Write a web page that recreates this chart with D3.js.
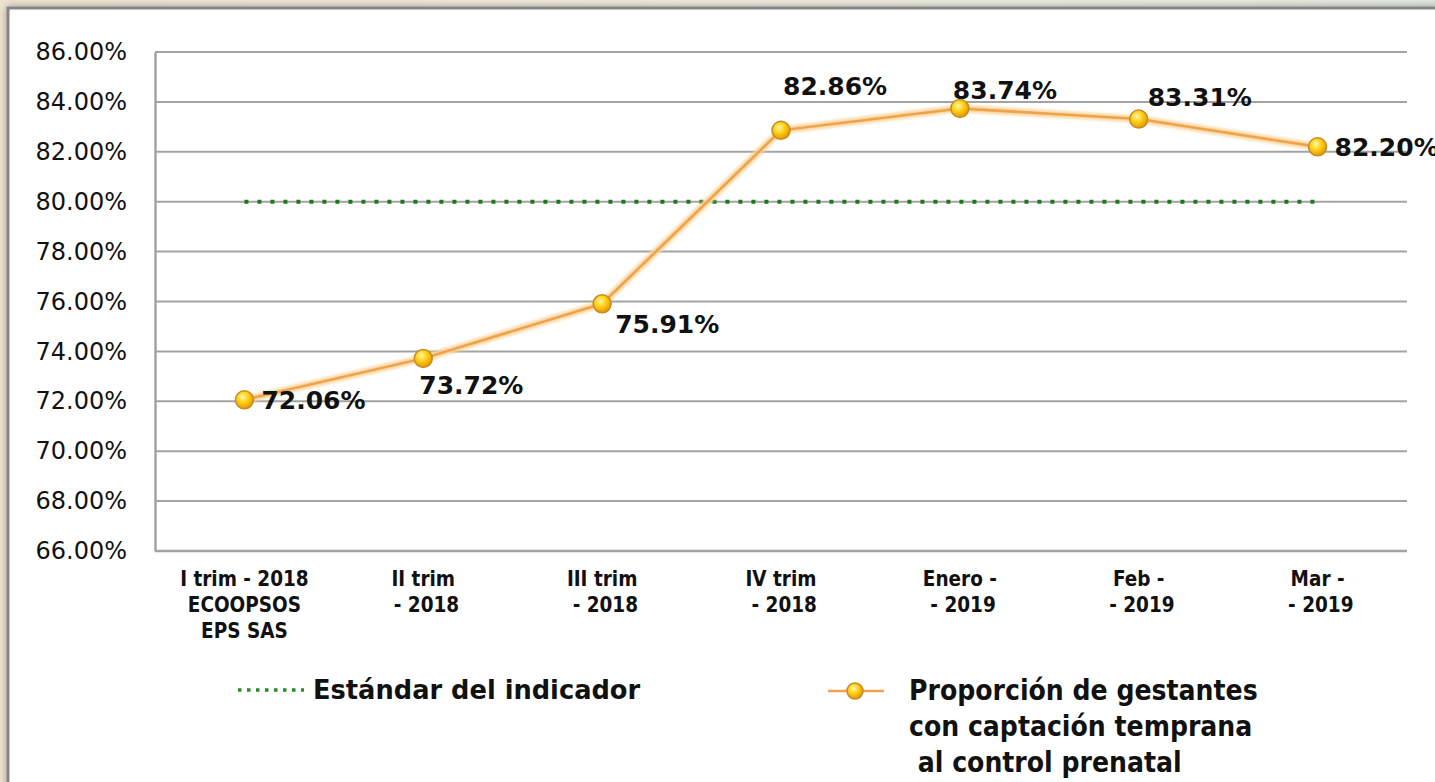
<!DOCTYPE html>
<html>
<head>
<meta charset="utf-8">
<script src="https://cdn.jsdelivr.net/npm/d3@7"></script>
<style>
  body { margin: 0; background: #efe7d8; }
  svg { display: block; }
</style>
</head>
<body>
<div id="chart"></div>
<script>
// Data
var categories = [
    ["I trim - 2018", "ECOOPSOS", "EPS SAS"],
    ["II trim", " - 2018"],
    ["III trim", " - 2018"],
    ["IV trim", " - 2018"],
    ["Enero -", " - 2019"],
    ["Feb -", " - 2019"],
    ["Mar -", " - 2019"]
];
var proporcion = [72.06, 73.72, 75.91, 82.86, 83.74, 83.31, 82.20];
var estandar = [80, 80, 80, 80, 80, 80, 80];
var yTicks = [66, 68, 70, 72, 74, 76, 78, 80, 82, 84, 86];
var legendNames = ["Estándar del indicador", ["Proporción de gestantes", "con captación temprana", " al control prenatal"]];

// Label placement relative to each point (layout only)
var labelOffsets = [[17, 9], [-4, 36], [13, 29], [2, -35], [-7, -9], [9, -13], [17, 9]];

var svgWidth = 1435;
var svgHeight = 782;

var margin = { top: 52, right: 28, bottom: 231, left: 155 };
var width = svgWidth - margin.left - margin.right;
var height = svgHeight - margin.top - margin.bottom;

var svg = d3.select("#chart")
    .append("svg")
    .attr("width", svgWidth)
    .attr("height", svgHeight);

var defs = svg.append("defs");

// page background gradient
var bg = defs.append("linearGradient").attr("id", "bg")
    .attr("x1", "0").attr("y1", "0").attr("x2", "1").attr("y2", "0");
bg.append("stop").attr("offset", "0%").attr("stop-color", "#efe5d3");
bg.append("stop").attr("offset", "60%").attr("stop-color", "#f2ede2");
bg.append("stop").attr("offset", "100%").attr("stop-color", "#e3ebe0");

var ball = defs.append("radialGradient").attr("id", "ball")
    .attr("cx", "40%").attr("cy", "35%").attr("r", "65%");
ball.append("stop").attr("offset", "0%").attr("stop-color", "#fff7a8");
ball.append("stop").attr("offset", "45%").attr("stop-color", "#ffd21a");
ball.append("stop").attr("offset", "100%").attr("stop-color", "#e39a00");

var shadow = defs.append("filter").attr("id", "shadow")
    .attr("x", "-5%").attr("y", "-5%").attr("width", "110%").attr("height", "110%");
shadow.append("feDropShadow").attr("dx", 0).attr("dy", 0).attr("stdDeviation", 4)
    .attr("flood-color", "#000").attr("flood-opacity", 0.35);

var blur = defs.append("filter").attr("id", "blur");
blur.append("feGaussianBlur").attr("stdDeviation", 1.5);

svg.append("rect")
    .attr("width", svgWidth).attr("height", svgHeight)
    .attr("fill", "url(#bg)");

// chart box
svg.append("rect")
    .attr("x", 8).attr("y", 8)
    .attr("width", svgWidth + 20).attr("height", svgHeight + 20)
    .attr("fill", "#ffffff")
    .attr("stroke", "#858585")
    .attr("stroke-width", 3)
    .attr("filter", "url(#shadow)");

var chartGroup = svg.append("g")
    .attr("transform", `translate(${margin.left}, ${margin.top})`);

// Scales
var xBandScale = d3.scaleBand()
    .domain(d3.range(categories.length))
    .range([0, width]);

var yLinearScale = d3.scaleLinear()
    .domain([66, 86])
    .range([height, 0]);

var xCenter = i => xBandScale(i) + xBandScale.bandwidth() / 2;

// Gridlines
chartGroup.append("g")
    .selectAll("line")
    .data(yTicks)
    .enter()
    .append("line")
    .attr("x1", 0)
    .attr("x2", width)
    .attr("y1", d => yLinearScale(d))
    .attr("y2", d => yLinearScale(d))
    .attr("stroke", "#a3a3a3")
    .attr("stroke-width", 2);

// Left axis
var leftAxis = d3.axisLeft(yLinearScale)
    .tickValues(yTicks)
    .tickSize(0)
    .tickPadding(28)
    .tickFormat(d => d.toFixed(2) + "%");

var yAxisG = chartGroup.append("g").call(leftAxis);
yAxisG.select(".domain").attr("stroke", "#a3a3a3").attr("stroke-width", 2.5);
yAxisG.selectAll("text")
    .attr("font-family", "DejaVu Sans, Verdana, sans-serif")
    .attr("font-size", "24px")
    .attr("fill", "#111");

// Bottom axis line
chartGroup.append("line")
    .attr("x1", 0).attr("x2", width)
    .attr("y1", height).attr("y2", height)
    .attr("stroke", "#a3a3a3")
    .attr("stroke-width", 2.5);

// X labels
var xLabels = chartGroup.append("g")
    .selectAll("text")
    .data(categories)
    .enter()
    .append("text")
    .attr("x", (d, i) => xCenter(i))
    .attr("y", height + 35)
    .attr("text-anchor", "middle")
    .attr("font-family", "DejaVu Sans Condensed, DejaVu Sans, sans-serif")
    .attr("font-weight", "bold")
    .attr("font-size", "20.5px")
    .attr("fill", "#111");

xLabels.selectAll("tspan")
    .data(d => d)
    .enter()
    .append("tspan")
    .attr("x", function() { return d3.select(this.parentNode).attr("x"); })
    .attr("dy", (d, i) => i === 0 ? 0 : 26)
    .attr("xml:space", "preserve")
    .text(d => d);

// Standard line (dotted)
var line = d3.line()
    .x((d, i) => xCenter(i))
    .y(d => yLinearScale(d));

chartGroup.append("path")
    .datum(estandar)
    .attr("d", line)
    .attr("fill", "none")
    .attr("stroke", "#8fd08f")
    .attr("stroke-width", 8)
    .attr("stroke-dasharray", "6 7")
    .attr("opacity", 0.55)
    .attr("filter", "url(#blur)");

chartGroup.append("path")
    .datum(estandar)
    .attr("d", line)
    .attr("fill", "none")
    .attr("stroke", "#1c7a1c")
    .attr("stroke-width", 4)
    .attr("stroke-dasharray", "4 9");

// Series line with glow
chartGroup.append("path")
    .datum(proporcion)
    .attr("d", line)
    .attr("fill", "none")
    .attr("stroke", "#f7d49a")
    .attr("stroke-width", 7)
    .attr("filter", "url(#blur)");

chartGroup.append("path")
    .datum(proporcion)
    .attr("d", line)
    .attr("fill", "none")
    .attr("stroke", "#f0a24a")
    .attr("stroke-width", 2.5);

// Markers
var circlesGroup = chartGroup.selectAll("circle.pt")
    .data(proporcion)
    .enter()
    .append("circle")
    .attr("class", "pt")
    .attr("cx", (d, i) => xCenter(i))
    .attr("cy", d => yLinearScale(d))
    .attr("r", 9)
    .attr("fill", "url(#ball)")
    .attr("stroke", "#c88a22")
    .attr("stroke-width", 1.5);

// Data labels
chartGroup.selectAll("text.lbl")
    .data(proporcion)
    .enter()
    .append("text")
    .attr("class", "lbl")
    .attr("x", (d, i) => xCenter(i) + labelOffsets[i][0])
    .attr("y", (d, i) => yLinearScale(d) + labelOffsets[i][1])
    .attr("font-family", "DejaVu Sans, Verdana, sans-serif")
    .attr("font-weight", "bold")
    .attr("font-size", "25px")
    .attr("fill", "#111")
    .text(d => d.toFixed(2) + "%");

// Legend
var legend = svg.append("g");

legend.append("line")
    .attr("x1", 238).attr("x2", 304)
    .attr("y1", 690).attr("y2", 690)
    .attr("stroke", "#2a8a2a")
    .attr("stroke-width", 3.5)
    .attr("stroke-dasharray", "3.5 5.5");

legend.append("text")
    .attr("x", 313).attr("y", 699)
    .attr("font-family", "DejaVu Sans, Verdana, sans-serif")
    .attr("font-weight", "bold")
    .attr("font-size", "25.7px")
    .attr("fill", "#111")
    .text(legendNames[0]);

legend.append("line")
    .attr("x1", 828).attr("x2", 884)
    .attr("y1", 691).attr("y2", 691)
    .attr("stroke", "#f0a24a")
    .attr("stroke-width", 2.5);

legend.append("circle")
    .attr("cx", 855).attr("cy", 691)
    .attr("r", 8)
    .attr("fill", "url(#ball)")
    .attr("stroke", "#c88a22")
    .attr("stroke-width", 1.5);

legend.append("text")
    .attr("x", 909).attr("y", 700)
    .attr("font-family", "DejaVu Sans Condensed, DejaVu Sans, sans-serif")
    .attr("font-weight", "bold")
    .attr("font-size", "28px")
    .attr("fill", "#111")
    .selectAll("tspan")
    .data(legendNames[1])
    .enter()
    .append("tspan")
    .attr("x", 909)
    .attr("dy", (d, i) => i === 0 ? 0 : 36)
    .attr("xml:space", "preserve")
    .text(d => d);
</script>
</body>
</html>
